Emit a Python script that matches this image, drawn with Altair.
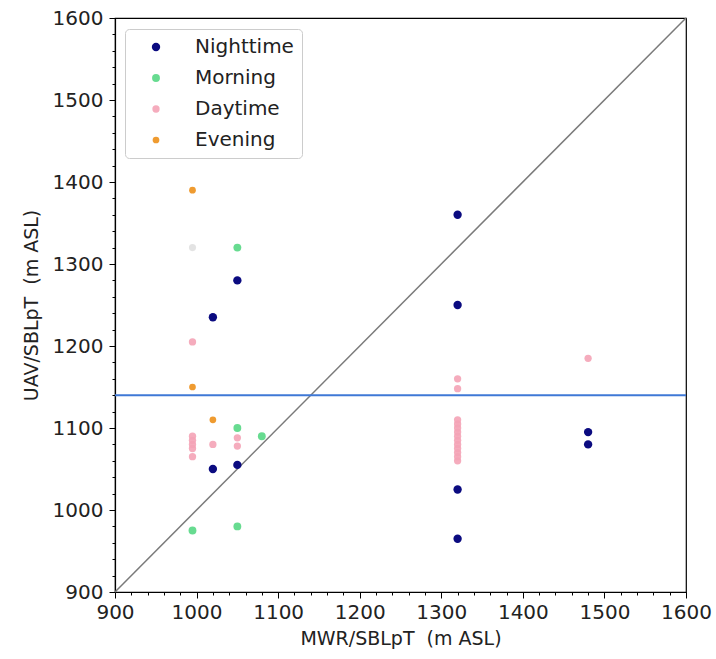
import altair as alt
import pandas as pd

categories = ["Nighttime", "Morning", "Daytime", "Evening"]
colors = ["#0b0b80", "#5fd98a", "#f4a3b6", "#ec8a0c"]

night_x = [1320, 1320, 1050, 1020, 1020, 1050, 1320, 1320, 1480, 1480]
night_y = [1360, 1250, 1280, 1235, 1050, 1055, 1025, 965, 1095, 1080]

morning_x = [1050, 1050, 1080, 995, 1050]
morning_y = [1320, 1100, 1090, 975, 980]

day_x = [995, 995, 995, 995, 995, 995, 1020, 1050, 1050,
         1320, 1320, 1320, 1320, 1320, 1320, 1320, 1320, 1320, 1320, 1320,
         1320, 1320, 1480]
day_y = [1205, 1065, 1075, 1080, 1085, 1090, 1080, 1078, 1088,
         1160, 1148, 1060, 1065, 1070, 1075, 1080, 1085, 1090, 1095, 1100,
         1105, 1110, 1185]

evening_x = [995, 995, 1020]
evening_y = [1390, 1150, 1110]

faint_x = [995]
faint_y = [1320]

diag = [900, 1600]
hline_y = [1140]

rows = []
for name, xs, ys in [("Nighttime", night_x, night_y), ("Morning", morning_x, morning_y),
                     ("Daytime", day_x, day_y), ("Evening", evening_x, evening_y)]:
    for a, b in zip(xs, ys):
        rows.append({"x": a, "y": b, "period": name})
df = pd.DataFrame(rows)

xscale = alt.Scale(domain=[900, 1600], nice=False, zero=False)
yscale = alt.Scale(domain=[900, 1600], nice=False, zero=False)

tick_vals = list(range(900, 1601, 20))
tick_size = {"condition": {"test": "datum.value % 100 === 0", "value": 6}, "value": 3}
label_expr = "datum.value % 100 === 0 ? format(datum.value, 'd') : ''"

xaxis = alt.Axis(values=tick_vals, tickCount=100, labelExpr=label_expr, tickSize=tick_size,
                 title="MWR/SBLpT\u00a0 (m ASL)", grid=False, labelFlush=False,
                 labelOverlap=False, labelPadding=4, titlePadding=7)
yaxis = alt.Axis(values=tick_vals, tickCount=100, labelExpr=label_expr, tickSize=tick_size,
                 title="UAV/SBLpT\u00a0 (m ASL)", grid=False, labelFlush=False,
                 labelOverlap=False, labelPadding=6, titlePadding=11)

diag_chart = alt.Chart(pd.DataFrame({"x": diag, "y": diag})).mark_line(
    color="#7a7a7a", strokeWidth=1.5
).encode(
    x=alt.X("x:Q", scale=xscale, axis=xaxis),
    y=alt.Y("y:Q", scale=yscale, axis=yaxis),
)

hline = alt.Chart(pd.DataFrame({"y": hline_y})).mark_rule(
    color="#3f78d6", strokeWidth=2
).encode(y=alt.Y("y:Q", scale=yscale))

faint = alt.Chart(pd.DataFrame({"x": faint_x, "y": faint_y})).mark_point(
    filled=True, shape="circle", color="#b0b0b0", opacity=0.35, size=50
).encode(x=alt.X("x:Q", scale=xscale), y=alt.Y("y:Q", scale=yscale))

points = alt.Chart(df).mark_point(filled=True, shape="circle").encode(
    x=alt.X("x:Q", scale=xscale),
    y=alt.Y("y:Q", scale=yscale),
    color=alt.Color(
        "period:N",
        scale=alt.Scale(domain=categories, range=colors),
        sort=categories,
        legend=alt.Legend(
            title=None, orient="none", legendX=10, legendY=11,
            symbolType="circle", symbolSize=64, symbolOpacity=1,
            labelFontSize=20, labelFont="DejaVu Sans", labelColor="#222222",
            padding=8, symbolOffset=13, labelOffset=29, rowPadding=11,
            strokeColor="#cccccc", fillColor="white", cornerRadius=4,
        ),
    ),
    size=alt.Size("period:N", scale=alt.Scale(domain=categories, range=[70, 45, 45, 55]), legend=None),
    opacity=alt.Opacity("period:N", scale=alt.Scale(domain=categories, range=[1.0, 0.85, 0.55, 0.95]), legend=None),
)

chart = alt.layer(diag_chart, hline, faint, points).properties(
    width=571, height=574,
    autosize=alt.AutoSizeParams(type="none"),
    padding={"left": 115, "top": 18, "right": 30, "bottom": 67},
).configure_view(
    stroke="black", strokeWidth=1.2
).configure_axis(
    labelFont="DejaVu Sans", titleFont="DejaVu Sans",
    labelFontSize=20, titleFontSize=19, titleFontWeight="normal",
    labelColor="#222222", titleColor="#222222",
    domainColor="black", tickColor="black", domainWidth=1.2, tickWidth=1,
)

chart.save("out.html", embed_options={"renderer": "svg", "actions": False})
